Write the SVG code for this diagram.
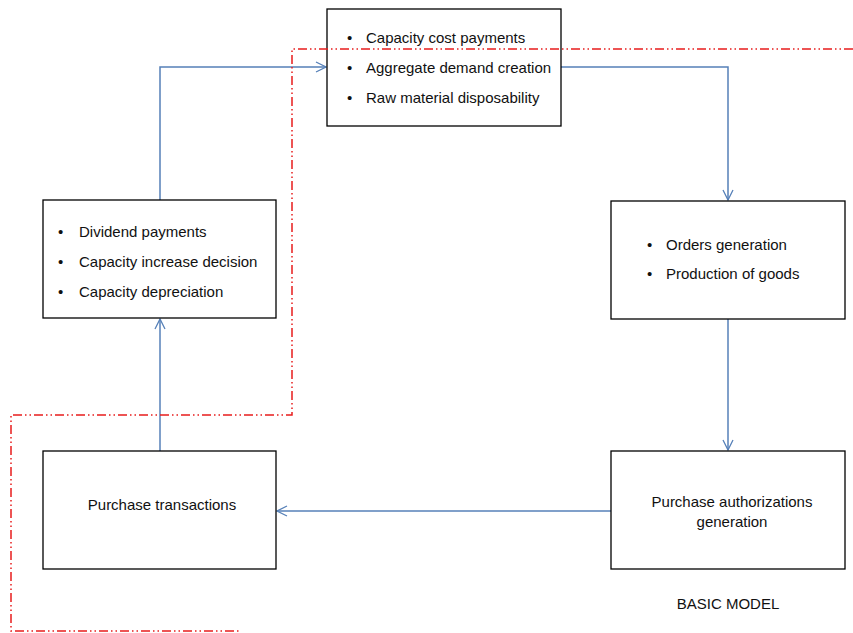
<svg xmlns="http://www.w3.org/2000/svg" width="853" height="633" viewBox="0 0 853 633">
<defs>
<style>
.box{fill:#fff;stroke:#000;stroke-width:1.3}
.t{font-family:"Liberation Sans",Arial,sans-serif;font-size:15px;fill:#111}
.c{text-anchor:middle}
.conn{fill:none;stroke:#5680b8;stroke-width:1.5}
.bound{fill:none;stroke:#e81d1d;stroke-width:1.5;stroke-dasharray:9 3 1.5 3 1.5 3}
</style>
<marker id="arr" viewBox="0 0 12 12" refX="11" refY="6" markerWidth="12" markerHeight="12" markerUnits="userSpaceOnUse" orient="auto">
<path d="M1,1 L11,6 L1,11" fill="none" stroke="#5680b8" stroke-width="1.3"/>
</marker>
</defs>
<rect width="853" height="633" fill="#fff"/>
<g id="connectors">
<path class="conn" d="M160,200 V67 H326" marker-end="url(#arr)"/>
<path class="conn" d="M561,67 H728 V200" marker-end="url(#arr)"/>
<path class="conn" d="M728,319 V450" marker-end="url(#arr)"/>
<path class="conn" d="M611,511 H277" marker-end="url(#arr)"/>
<path class="conn" d="M160,451 V319" marker-end="url(#arr)"/>
</g>
<g id="node-top">
<rect class="box" x="327" y="9" width="234" height="117"/>
<text class="t" x="347" y="43">•</text><text class="t" x="366" y="43">Capacity cost payments</text>
<text class="t" x="347" y="73">•</text><text class="t" x="366" y="73">Aggregate demand creation</text>
<text class="t" x="347" y="103">•</text><text class="t" x="366" y="103">Raw material disposability</text>
</g>
<g id="node-left">
<rect class="box" x="43" y="200" width="233" height="118"/>
<text class="t" x="58" y="237">•</text><text class="t" x="79" y="237">Dividend payments</text>
<text class="t" x="58" y="267">•</text><text class="t" x="79" y="267">Capacity increase decision</text>
<text class="t" x="58" y="297">•</text><text class="t" x="79" y="297">Capacity depreciation</text>
</g>
<g id="node-right">
<rect class="box" x="611" y="201" width="234" height="118"/>
<text class="t" x="647" y="250">•</text><text class="t" x="666" y="250">Orders generation</text>
<text class="t" x="647" y="279">•</text><text class="t" x="666" y="279">Production of goods</text>
</g>
<g id="node-purchase-transactions">
<rect class="box" x="43" y="451" width="233" height="118"/>
<text class="t c" x="162" y="510">Purchase transactions</text>
</g>
<g id="node-purchase-authorizations">
<rect class="box" x="611" y="451" width="234" height="118"/>
<text class="t c" x="732" y="507">Purchase authorizations</text>
<text class="t c" x="732" y="527">generation</text>
</g>
<text class="t c" x="728" y="609">BASIC MODEL</text>
<g id="boundary">
<path class="bound" d="M853,49 H292 V415 H11 V631 H240"/>
</g>
</svg>
